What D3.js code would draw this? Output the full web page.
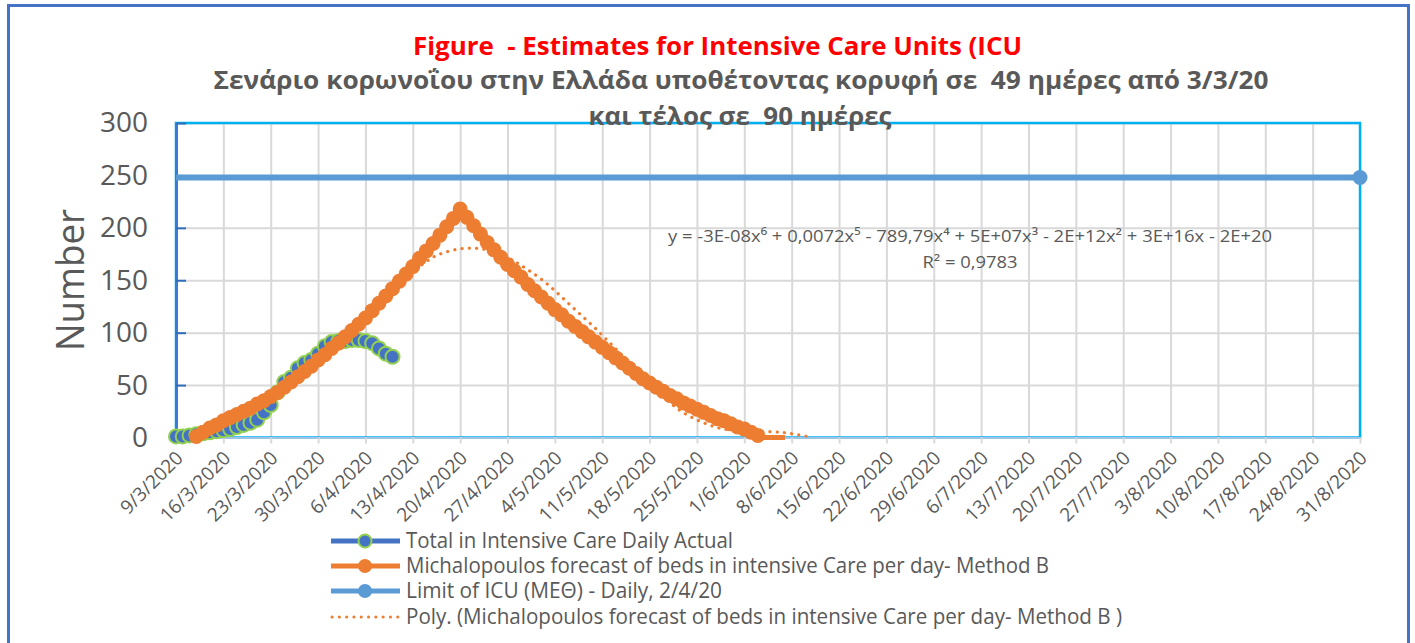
<!DOCTYPE html>
<html>
<head>
<meta charset="utf-8">
<script src="https://cdn.jsdelivr.net/npm/d3@7"></script>
<style>
body{margin:0;background:#fff;}
svg{display:block;font-family:"Open Sans",sans-serif;}
</style>
</head>
<body>
<div id="chart"></div>
<script>
// ---- data ----
var xStart = "2020-03-09", xEnd = "2020-08-31";
var yTicks = [0, 50, 100, 150, 200, 250, 300];

// daily ICU actual, from 9/3/2020
var actualStart = "2020-03-09";
var actualValues = [1,1,2,3,4,5,6,7,8,10, 12,14,17,24,31,43,53,57,66,71,
                    74,80,87,91,92,92,93,93,92,90, 85,80,77];

// Michalopoulos forecast (method B), daily from 12/3/2020
var forecastStart = "2020-03-12";
var forecastValues = [1,5,9,12,16,19,22,25,28,32,
                      35,39,43,48,53,58,63,68,74,79,
                      85,90,96,102,108,114,121,128,135,142,
                      149,156,163,171,178,185,193,201,209,218,
                      210,202,194,186,179,172,165,159,153,146,
                      140,134,128,122,117,111,106,101,96,91,
                      86,81,76,71,66,61,56,52,48,44,
                      40,37,33,30,27,24,21,18,16,13,
                      10,8,5,2,0,0,0,0];

// ICU limit
var limitDates = ["2020-03-09", "2020-08-31"];
var limitValues = [248, 248];

// polynomial trendline (days after 9/3/2020)
var polyDays = [3,7,10,14,17,21,24,28,31,35,38,40,42,44,46,48,50,52,54,56,58,60,62,64,66,68,70,72,74,76,78,80,82,85,88,90,92,94];
var polyValues = [4,14,24,38,50,70,88,116,136,158,172,177,180,180.5,179,175,168,160,151,140,128,116,104,91,78,65,52,40,28,20,14,9.5,7,5.5,5.5,4.5,2.5,0];

var legendLabels = [
    "Total in Intensive Care Daily Actual",
    "Michalopoulos forecast of beds in intensive Care per day- Method B",
    "Limit of ICU (ΜΕΘ) - Daily, 2/4/20",
    "Poly. (Michalopoulos forecast of beds in intensive Care per day- Method B )"
];

var title1 = "Figure  - Estimates for Intensive Care Units (ICU";
var title2 = "Σενάριο κορωνοΐου στην Ελλάδα υποθέτοντας κορυφή σε  49 ημέρες από 3/3/20";
var title3 = "και τέλος σε  90 ημέρες";
var equation = "y = -3E-08x⁶ + 0,0072x⁵ - 789,79x⁴ + 5E+07x³ - 2E+12x² + 3E+16x - 2E+20";
var rSquared = "R² = 0,9783";

// ---- layout ----
const width = 1415, height = 643;
const margin = {top: 123, left: 176, right: 55, bottom: 205.5};
var innerWidth = width - margin.left - margin.right;
var innerHeight = height - margin.top - margin.bottom;

var parse = d3.utcParse("%Y-%m-%d");
var fmt = d3.utcFormat("%-d/%-m/%Y");

var svg = d3.select("#chart").append("svg")
    .attr("width", width)
    .attr("height", height);

// outer frame
svg.append("rect")
    .attr("x", 8.5).attr("y", 5.5)
    .attr("width", 1400).attr("height", height)
    .attr("fill", "none")
    .attr("stroke", "#4472C4")
    .attr("stroke-width", 3);

var xScale = d3.scaleUtc()
    .domain([parse(xStart), parse(xEnd)])
    .range([0, innerWidth]);

var yScale = d3.scaleLinear()
    .domain([0, 300])
    .range([innerHeight, 0]);

var tickDates = d3.utcDay.range(parse(xStart), d3.utcDay.offset(parse(xEnd), 1), 7);

var g = svg.append("g")
    .attr("transform", "translate(" + margin.left + "," + margin.top + ")");

// gridlines
var gx = g.append("g")
    .call(d3.axisBottom(xScale).tickValues(tickDates).tickSize(innerHeight).tickFormat(""));
gx.select(".domain").remove();
gx.selectAll("line").attr("stroke", "#D9D9D9").attr("stroke-width", 2);

var gy = g.append("g")
    .call(d3.axisLeft(yScale).tickValues(yTicks).tickSize(-innerWidth).tickFormat(""));
gy.select(".domain").remove();
gy.selectAll("line").attr("stroke", "#D9D9D9").attr("stroke-width", 2);

// plot frame
g.append("rect")
    .attr("width", innerWidth).attr("height", innerHeight)
    .attr("fill", "none")
    .attr("stroke", "#00B0F0")
    .attr("stroke-width", 2.5);

// x axis
var xAxisG = g.append("g")
    .attr("transform", "translate(0," + innerHeight + ")")
    .call(d3.axisBottom(xScale).tickValues(tickDates).tickFormat(fmt).tickSizeInner(6).tickSizeOuter(0));
xAxisG.attr("font-family", "Open Sans, sans-serif");
xAxisG.select(".domain").attr("stroke", "#9DC3E6").attr("stroke-width", 2);
xAxisG.selectAll(".tick line").attr("stroke", "#D9D9D9").attr("stroke-width", 2);
xAxisG.selectAll("text")
    .attr("fill", "#595959")
    .style("font-size", "19px")
    .attr("text-anchor", "end")
    .attr("x", 0).attr("y", 0).attr("dy", "0.35em")
    .attr("transform", "translate(3,17) rotate(-45)");

// y axis
var yAxisG = g.append("g")
    .call(d3.axisLeft(yScale).tickValues(yTicks).tickSizeInner(-10).tickSizeOuter(0).tickPadding(28));
yAxisG.attr("font-family", "Open Sans, sans-serif");
yAxisG.select(".domain").attr("stroke", "#3A7BD5").attr("stroke-width", 3);
yAxisG.selectAll(".tick line").attr("stroke", "#2F6EBA").attr("stroke-width", 2);
yAxisG.selectAll("text")
    .attr("fill", "#595959")
    .style("font-size", "28px");

svg.append("text")
    .attr("transform", "translate(84,280) rotate(-90)")
    .attr("text-anchor", "middle")
    .attr("fill", "#595959")
    .attr("textLength", 142)
    .attr("lengthAdjust", "spacingAndGlyphs")
    .style("font-size", "38px")
    .text("Number");

// ---- series ----
var line = d3.line()
    .x(d => xScale(d.date))
    .y(d => yScale(d.value));

var actualData = actualValues.map((v, i) => ({date: d3.utcDay.offset(parse(actualStart), i), value: v}));
var forecastData = forecastValues.map((v, i) => ({date: d3.utcDay.offset(parse(forecastStart), i), value: v}));
var limitData = limitValues.map((v, i) => ({date: parse(limitDates[i]), value: v}));
var polyData = polyValues.map((v, i) => ({date: d3.utcDay.offset(parse(xStart), polyDays[i]), value: v}));

// actual
g.append("path")
    .datum(actualData)
    .attr("fill", "none")
    .attr("stroke", "#4472C4")
    .attr("stroke-width", 4)
    .attr("d", line);
g.append("g").selectAll("circle")
    .data(actualData)
    .enter()
    .append("circle")
    .attr("cx", d => xScale(d.date))
    .attr("cy", d => yScale(d.value))
    .attr("r", 7)
    .attr("fill", "#4472C4")
    .attr("stroke", "#92D050")
    .attr("stroke-width", 2);

// forecast
g.append("path")
    .datum(forecastData)
    .attr("fill", "none")
    .attr("stroke", "#ED7D31")
    .attr("stroke-width", 5)
    .attr("d", line);
g.append("g").selectAll("circle")
    .data(forecastData.filter(d => d.value > 0))
    .enter()
    .append("circle")
    .attr("cx", d => xScale(d.date))
    .attr("cy", d => yScale(d.value))
    .attr("r", 7.5)
    .attr("fill", "#ED7D31");

// limit
g.append("path")
    .datum(limitData)
    .attr("fill", "none")
    .attr("stroke", "#5B9BD5")
    .attr("stroke-width", 6)
    .attr("d", line);
g.append("circle")
    .attr("cx", xScale(limitData[1].date))
    .attr("cy", yScale(limitData[1].value))
    .attr("r", 7.5)
    .attr("fill", "#5B9BD5");

// trendline
svg.append("clipPath").attr("id", "plotClip")
    .append("rect").attr("width", innerWidth).attr("height", innerHeight);
g.append("path")
    .datum(polyData)
    .attr("clip-path", "url(#plotClip)")
    .attr("fill", "none")
    .attr("stroke", "#ED7D31")
    .attr("stroke-width", 3.2)
    .attr("stroke-linecap", "round")
    .attr("stroke-dasharray", "0.1 7.2")
    .attr("d", line.curve(d3.curveCatmullRom.alpha(0.5)));

// equation
svg.append("text")
    .attr("x", 970).attr("y", 242)
    .attr("text-anchor", "middle")
    .attr("fill", "#595959")
    .attr("textLength", 604)
    .attr("lengthAdjust", "spacingAndGlyphs")
    .style("font-size", "17px")
    .text(equation);
svg.append("text")
    .attr("x", 970).attr("y", 268)
    .attr("text-anchor", "middle")
    .attr("fill", "#595959")
    .attr("textLength", 95)
    .attr("lengthAdjust", "spacingAndGlyphs")
    .style("font-size", "17px")
    .text(rSquared);

// ---- titles ----
svg.append("text")
    .attr("x", 717.5).attr("y", 55)
    .attr("text-anchor", "middle")
    .attr("fill", "#FF0000")
    .attr("font-weight", "bold")
    .attr("textLength", 609)
    .attr("lengthAdjust", "spacingAndGlyphs")
    .style("white-space", "pre")
    .style("font-size", "25px")
    .text(title1);
svg.append("text")
    .attr("x", 741).attr("y", 89)
    .attr("text-anchor", "middle")
    .attr("fill", "#595959")
    .attr("font-weight", "bold")
    .attr("textLength", 1055)
    .attr("lengthAdjust", "spacingAndGlyphs")
    .style("white-space", "pre")
    .style("font-size", "25px")
    .text(title2);
svg.append("text")
    .attr("x", 740).attr("y", 125)
    .attr("text-anchor", "middle")
    .attr("fill", "#595959")
    .attr("font-weight", "bold")
    .attr("textLength", 303)
    .attr("lengthAdjust", "spacingAndGlyphs")
    .style("white-space", "pre")
    .style("font-size", "25px")
    .text(title3);

// ---- legend ----
var legendY = [541, 566, 591, 617];
var legendWidths = [327, 643, 316, 716];
var legend = svg.append("g").attr("class", "legend");

legend.append("line").attr("x1", 331).attr("x2", 400).attr("y1", legendY[0]).attr("y2", legendY[0])
    .attr("stroke", "#4472C4").attr("stroke-width", 5);
legend.append("circle").attr("cx", 365).attr("cy", legendY[0]).attr("r", 6.5)
    .attr("fill", "#4472C4").attr("stroke", "#92D050").attr("stroke-width", 2);

legend.append("line").attr("x1", 331).attr("x2", 400).attr("y1", legendY[1]).attr("y2", legendY[1])
    .attr("stroke", "#ED7D31").attr("stroke-width", 5);
legend.append("circle").attr("cx", 365).attr("cy", legendY[1]).attr("r", 7).attr("fill", "#ED7D31");

legend.append("line").attr("x1", 331).attr("x2", 400).attr("y1", legendY[2]).attr("y2", legendY[2])
    .attr("stroke", "#5B9BD5").attr("stroke-width", 5);
legend.append("circle").attr("cx", 365).attr("cy", legendY[2]).attr("r", 7).attr("fill", "#5B9BD5");

legend.append("line").attr("x1", 332).attr("x2", 398).attr("y1", legendY[3]).attr("y2", legendY[3])
    .attr("stroke", "#ED7D31").attr("stroke-width", 3)
    .attr("stroke-linecap", "round").attr("stroke-dasharray", "0.1 7.2");

legend.selectAll("text")
    .data(legendLabels)
    .enter()
    .append("text")
    .attr("x", 406)
    .attr("y", (d, i) => legendY[i] + 7)
    .attr("fill", "#595959")
    .attr("textLength", (d, i) => legendWidths[i])
    .attr("lengthAdjust", "spacingAndGlyphs")
    .style("font-size", "21px")
    .text(d => d);
</script>
</body>
</html>
